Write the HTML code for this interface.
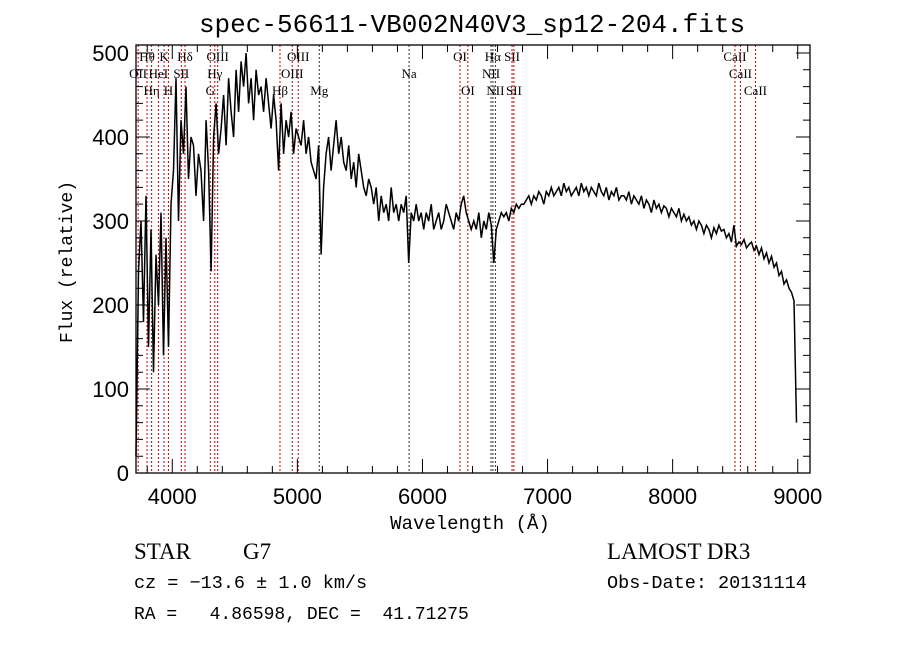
<!DOCTYPE html>
<html><head><meta charset="utf-8"><style>
body{margin:0;background:#fff;}
svg{display:block;}
.lbl{font-family:"Liberation Serif",serif;font-size:13px;fill:#000;}
.tk{font-family:"Liberation Sans",sans-serif;font-size:22px;fill:#000;}
</style></head><body>
<svg id="chart" width="900" height="649" viewBox="0 0 900 649" xmlns="http://www.w3.org/2000/svg">
<rect width="900" height="649" fill="#fff"/>
<text x="472" y="32" text-anchor="middle" font-family="Liberation Mono, monospace" font-size="26">spec-56611-VB002N40V3_sp12-204.fits</text>
<g id="lines"></g>
<g id="spec"></g>
<g id="axes"></g>
<text x="470" y="529" text-anchor="middle" font-family="Liberation Mono, monospace" font-size="19">Wavelength (Å)</text>
<text transform="translate(72,262) rotate(-90)" text-anchor="middle" font-family="Liberation Mono, monospace" font-size="18">Flux (relative)</text>
<text x="134" y="559" font-family="Liberation Serif, serif" font-size="23">STAR</text>
<text x="243" y="559" font-family="Liberation Serif, serif" font-size="23">G7</text>
<text x="607" y="559" font-family="Liberation Serif, serif" font-size="23">LAMOST DR3</text>
<text x="134" y="588" font-family="Liberation Mono, monospace" font-size="18.5">cz = −13.6 ± 1.0 km/s</text>
<text x="607" y="588" font-family="Liberation Mono, monospace" font-size="18.5">Obs-Date: 20131114</text>
<text x="134" y="619" font-family="Liberation Mono, monospace" font-size="18" xml:space="preserve">RA =   4.86598, DEC =  41.71275</text>
</svg>
<script>
const startWave = 3710;
const stepWave = 20;
const flux = [20,240,300,180,330,150,290,120,260,200,310,140,280,150,320,
360,470,300,420,380,460,350,400,390,330,380,360,300,420,360,240,400,440,380,410,450,390,470,430,400,
480,430,490,460,500,440,470,420,480,450,460,430,470,440,410,450,420,360,440,380,
420,400,430,380,410,400,390,420,380,400,370,360,350,390,260,
340,380,400,360,390,420,380,400,370,360,390,350,370,340,380,360,340,330,350,340,
320,340,300,330,310,320,300,340,310,320,300,320,310,330,250,310,300,320,300,310,
290,310,300,320,290,300,310,290,300,320,310,300,290,310,300,320,330,310,300,290,
300,290,310,280,300,290,310,295,250,290,300,310,305,310,300,315,310,320,315,320,
320,325,330,320,330,325,335,330,320,335,330,340,330,335,340,330,345,335,340,330,
335,340,330,345,335,340,330,340,335,330,345,335,330,340,325,335,330,340,325,330,
330,325,335,320,330,325,320,330,315,325,320,310,325,315,320,310,318,315,305,315,
310,305,315,300,308,300,305,295,300,290,300,295,285,295,290,280,292,285,295,288,
290,280,285,275,295,270,275,272,278,268,272,275,265,270,260,268,255,262,250,258,
245,250,235,240,225,230,220,215,205,60];
const lineWaves = [3727,3798,3835,3889,3934,3969,4072,4102,4304,4340,4363,4861,4959,5007,5175,5893,6300,6363,6548,6563,6583,6716,6731,8498,8542,8662];
const lineNames = ["OII","Hθ","Hη","HeI","K","H","SII","Hδ","G","Hγ","OIII","Hβ","OIII","OIII","Mg","Na","OI","OI","NII","Hα","NII","SII","SII","CaII","CaII","CaII"];
const lineRows = [2,1,3,2,1,3,2,1,3,2,1,3,2,1,3,2,1,3,2,1,3,1,3,1,2,3];
const lineRed = [1,1,1,1,1,1,1,1,1,1,1,1,1,1,0,0,1,1,0,0,0,1,1,1,1,1];
const xTicks = [4000,5000,6000,7000,8000,9000];
const yTicks = [0,100,200,300,400,500];

const X0=136,X1=810,Y0=45,Y1=473, WMIN=3710, WMAX=9098, FMAX=509.5;
const sx = w => X0 + (w-WMIN)/(WMAX-WMIN)*(X1-X0);
const sy = f => Y1 - f/FMAX*(Y1-Y0);
const NS="http://www.w3.org/2000/svg";
function mk(tag,parent){const e=document.createElementNS(NS,tag);parent.appendChild(e);return e;}

const gl=document.getElementById('lines');
lineWaves.forEach((w,i)=>{
  const l=mk('line',gl);
  
  
  l.setAttribute('x1',sx(w));l.setAttribute('x2',sx(w));
  l.setAttribute('y1',Y0);l.setAttribute('y2',Y1);
  l.setAttribute('stroke',lineRed[i]?'#c00000':'#333');
  l.setAttribute('stroke-width','1');
  l.setAttribute('stroke-dasharray','2,2');
  const t=mk('text',gl);
  
  
  t.setAttribute('class','lbl');
  t.setAttribute('x',sx(w));t.setAttribute('y',Y0+16+(lineRows[i]-1)*17);
  t.setAttribute('text-anchor','middle');
  t.textContent=lineNames[i];
});

const gs=document.getElementById('spec');
let d='';
flux.forEach((f,i)=>{const w=startWave+i*stepWave; d+=(i?'L':'M')+sx(w).toFixed(1)+','+sy(f).toFixed(1);});
const p=mk('path',gs);


p.setAttribute('d',d);p.setAttribute('fill','none');p.setAttribute('stroke','#000');p.setAttribute('stroke-width','1.5');

const ga=document.getElementById('axes');
const fr=mk('rect',ga);


fr.setAttribute('x',X0);fr.setAttribute('y',Y0);fr.setAttribute('width',X1-X0);fr.setAttribute('height',Y1-Y0);
fr.setAttribute('fill','none');fr.setAttribute('stroke','#000');fr.setAttribute('stroke-width','1.3');
let td='';
for(let w=3800;w<=9000;w+=200){const x=sx(w);const L=(w%1000===0)?14:7;td+=`M${x},${Y1}v${-L}M${x},${Y0}v${L}`;}
for(let f=0;f<=500;f+=20){const y=sy(f);const L=(f%100===0)?14:7;td+=`M${X0},${y}h${L}M${X1},${y}h${-L}`;}
const tp=mk('path',ga);


tp.setAttribute('d',td);tp.setAttribute('stroke','#000');tp.setAttribute('stroke-width','1');
xTicks.forEach(v=>{const t=mk('text',ga);
  
  
  t.setAttribute('class','tk');t.setAttribute('x',sx(v));t.setAttribute('y',Y1+31);t.setAttribute('text-anchor','middle');t.textContent=v;});
yTicks.forEach(v=>{const t=mk('text',ga);
  
  
  t.setAttribute('class','tk');t.setAttribute('x',X0-7);t.setAttribute('y',sy(v)+8);t.setAttribute('text-anchor','end');t.textContent=v;});
</script>
</body></html>
